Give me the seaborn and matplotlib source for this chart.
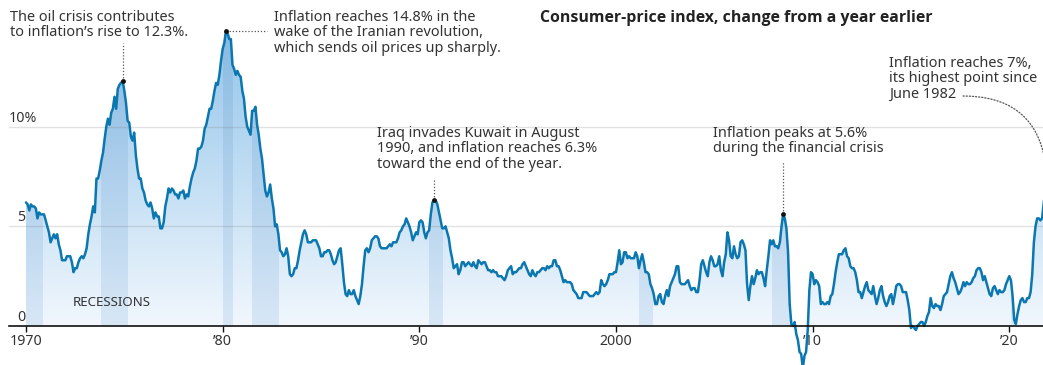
import numpy as np
import pandas as pd
import matplotlib
matplotlib.use("Agg")
import matplotlib.pyplot as plt
import seaborn as sns
from matplotlib.colors import LinearSegmentedColormap

# Consumer-price index, % change from a year earlier, monthly (Jan..Dec)
cpi_1970s = [
    6.2, 6.1, 5.8, 6.1, 6.0, 6.0, 5.9, 5.4, 5.7, 5.6, 5.6, 5.6,
    5.3, 5.0, 4.7, 4.2, 4.4, 4.6, 4.4, 4.6, 4.1, 3.8, 3.3, 3.3,
    3.3, 3.5, 3.5, 3.5, 3.2, 2.7, 2.9, 2.9, 3.2, 3.4, 3.5, 3.4,
    3.6, 3.9, 4.6, 5.1, 5.5, 6.0, 5.7, 7.4, 7.4, 7.8, 8.3, 8.7,
    9.4, 10.0, 10.4, 10.1, 10.7, 10.9, 11.5, 10.9, 11.9, 12.1, 12.2, 12.3,
    11.8, 11.2, 10.3, 10.2, 9.5, 9.3, 9.7, 8.6, 7.9, 7.4, 7.4, 6.9,
    6.7, 6.3, 6.1, 6.0, 6.2, 5.9, 5.4, 5.7, 5.5, 5.5, 4.9, 4.9,
    5.2, 6.0, 6.4, 6.9, 6.7, 6.9, 6.8, 6.6, 6.6, 6.4, 6.7, 6.7,
    6.8, 6.4, 6.6, 6.5, 7.0, 7.4, 7.7, 7.9, 8.3, 8.9, 8.9, 9.0,
    9.3, 9.9, 10.1, 10.5, 10.9, 10.9, 11.3, 11.8, 12.2, 12.1, 12.6, 13.3,
]
cpi_1980s = [
    13.9, 14.2, 14.8, 14.7, 14.4, 14.4, 13.1, 12.9, 12.6, 12.8, 12.6, 12.5,
    11.8, 11.4, 10.5, 10.0, 9.8, 9.6, 10.8, 10.8, 11.0, 10.1, 9.6, 8.9,
    8.4, 7.6, 6.8, 6.5, 6.7, 7.1, 6.4, 5.9, 5.0, 5.1, 4.6, 3.8,
    3.7, 3.5, 3.6, 3.9, 3.5, 2.6, 2.5, 2.6, 2.9, 2.9, 3.3, 3.8,
    4.2, 4.6, 4.8, 4.6, 4.2, 4.2, 4.2, 4.3, 4.3, 4.3, 4.1, 3.9,
    3.5, 3.5, 3.7, 3.7, 3.8, 3.8, 3.6, 3.3, 3.1, 3.2, 3.5, 3.8,
    3.9, 3.1, 2.2, 1.6, 1.5, 1.8, 1.6, 1.6, 1.8, 1.5, 1.3, 1.1,
    1.5, 2.1, 3.0, 3.8, 3.9, 3.7, 3.9, 4.3, 4.4, 4.5, 4.5, 4.4,
    4.0, 3.9, 3.9, 3.9, 3.9, 4.0, 4.1, 4.0, 4.2, 4.2, 4.2, 4.4,
    4.7, 4.8, 5.0, 5.1, 5.4, 5.2, 5.0, 4.7, 4.3, 4.5, 4.7, 4.6,
]
cpi_1990s = [
    5.2, 5.3, 5.2, 4.7, 4.4, 4.7, 4.8, 5.6, 6.2, 6.3, 6.3, 6.1,
    5.7, 5.3, 4.9, 4.9, 5.0, 4.7, 4.4, 3.8, 3.4, 2.9, 3.0, 3.1,
    2.6, 2.8, 3.2, 3.2, 3.0, 3.1, 3.2, 3.1, 3.0, 3.2, 3.0, 2.9,
    3.3, 3.2, 3.1, 3.2, 3.2, 3.0, 2.8, 2.8, 2.7, 2.8, 2.7, 2.7,
    2.5, 2.5, 2.5, 2.4, 2.3, 2.5, 2.8, 2.9, 3.0, 2.6, 2.7, 2.7,
    2.8, 2.9, 2.9, 3.1, 3.2, 3.0, 2.8, 2.6, 2.5, 2.8, 2.6, 2.5,
    2.7, 2.7, 2.8, 2.9, 2.9, 2.8, 3.0, 2.9, 3.0, 3.0, 3.3, 3.3,
    3.0, 3.0, 2.8, 2.5, 2.2, 2.3, 2.2, 2.2, 2.2, 2.1, 1.8, 1.7,
    1.6, 1.4, 1.4, 1.4, 1.7, 1.7, 1.7, 1.6, 1.5, 1.5, 1.5, 1.6,
    1.7, 1.6, 1.7, 2.3, 2.1, 2.0, 2.1, 2.3, 2.6, 2.6, 2.6, 2.7,
]
cpi_2000s = [
    2.7, 3.2, 3.8, 3.1, 3.2, 3.7, 3.7, 3.4, 3.5, 3.4, 3.4, 3.4,
    3.7, 3.5, 2.9, 3.3, 3.6, 3.2, 2.7, 2.7, 2.6, 2.1, 1.9, 1.6,
    1.1, 1.1, 1.5, 1.6, 1.2, 1.1, 1.5, 1.8, 1.5, 2.0, 2.2, 2.4,
    2.6, 3.0, 3.0, 2.2, 2.1, 2.1, 2.1, 2.2, 2.3, 2.0, 1.8, 1.9,
    1.9, 1.7, 1.7, 2.3, 3.1, 3.3, 3.0, 2.7, 2.5, 3.2, 3.5, 3.3,
    3.0, 3.0, 3.1, 3.5, 2.8, 2.5, 3.2, 3.6, 4.7, 4.3, 3.5, 3.4,
    4.0, 3.6, 3.4, 3.5, 4.2, 4.3, 4.1, 3.8, 2.1, 1.3, 2.0, 2.5,
    2.1, 2.4, 2.8, 2.6, 2.7, 2.7, 2.4, 2.0, 2.8, 3.5, 4.3, 4.1,
    4.3, 4.0, 4.0, 3.9, 4.2, 5.0, 5.6, 5.4, 4.9, 3.7, 1.1, 0.1,
    0.0, 0.2, -0.4, -0.7, -1.3, -1.4, -2.1, -1.5, -1.3, -0.2, 1.8, 2.7,
]
cpi_2010s = [
    2.6, 2.1, 2.3, 2.2, 2.0, 1.1, 1.2, 1.1, 1.1, 1.2, 1.1, 1.5,
    1.6, 2.1, 2.7, 3.2, 3.6, 3.6, 3.6, 3.8, 3.9, 3.5, 3.4, 3.0,
    2.9, 2.9, 2.7, 2.3, 1.7, 1.7, 1.4, 1.7, 2.0, 2.2, 1.8, 1.7,
    1.6, 2.0, 1.5, 1.1, 1.4, 1.8, 2.0, 1.5, 1.2, 1.0, 1.2, 1.5,
    1.6, 1.1, 1.5, 2.0, 2.1, 2.1, 2.0, 1.7, 1.7, 1.7, 1.3, 0.8,
    -0.1, 0.0, -0.1, -0.2, 0.0, 0.1, 0.2, 0.2, 0.0, 0.2, 0.5, 0.7,
    1.4, 1.0, 0.9, 1.1, 1.0, 1.0, 0.8, 1.1, 1.5, 1.6, 1.7, 2.1,
    2.5, 2.7, 2.4, 2.2, 1.9, 1.6, 1.7, 1.9, 2.2, 2.0, 2.2, 2.1,
    2.1, 2.2, 2.4, 2.5, 2.8, 2.9, 2.9, 2.7, 2.3, 2.5, 2.2, 1.9,
    1.6, 1.5, 1.9, 2.0, 1.8, 1.6, 1.8, 1.7, 1.7, 1.8, 2.1, 2.3,
]
cpi_2020s = [
    2.5, 2.3, 1.5, 0.3, 0.1, 0.6, 1.0, 1.3, 1.4, 1.2, 1.2, 1.4,
    1.4, 1.7, 2.6, 4.2, 5.0, 5.4, 5.4, 5.3, 5.4, 6.2, 6.8, 7.0,
]

# NBER recessions (start, end) as fractional years
recession_starts = [1969.917, 1973.833, 1980.0, 1981.5, 1990.5, 2001.167, 2007.917, 2020.083]
recession_ends = [1970.833, 1975.167, 1980.5, 1982.833, 1991.167, 2001.833, 2009.417, 2020.25]

x_ticks = [1970, 1980, 1990, 2000, 2010, 2020]
x_tick_labels = ["1970", "\u201980", "\u201990", "2000", "\u201910", "\u201920"]
y_gridlines = [5, 10]
y_labels = ["0", "5", "10%"]

yoy = np.array(cpi_1970s + cpi_1980s + cpi_1990s + cpi_2000s + cpi_2010s + cpi_2020s)
dates = 1970 + np.arange(len(yoy)) / 12.0
df = pd.DataFrame({"year": dates, "cpi": yoy})


def at(year, month):
    i = (year - 1970) * 12 + (month - 1)
    return dates[i], yoy[i]


sns.set_theme(style="white")
plt.rcParams["font.family"] = ["Noto Sans", "DejaVu Sans"]

W, H = 1043, 365
fig = plt.figure(figsize=(W / 100, H / 100), dpi=100)
ax = fig.add_axes([0, 0, 1, 1])

PX_YEAR = 19.666   # pixels per year
PX_UNIT = 19.93    # pixels per percentage point
X0_PX, Y0_PX = 26, 326  # where 1970 / 0% sit
xlim = (1970 - X0_PX / PX_YEAR, 1970 + (W - X0_PX) / PX_YEAR)
ylim = (-(H - Y0_PX) / PX_UNIT, Y0_PX / PX_UNIT)


def px_x(px):
    return 1970 + (px - X0_PX) / PX_YEAR


LINE = "#0b77b0"
TEXT = "#333333"
FS = 10.45

# Vertical gradient fill under the curve
fill_cmap = LinearSegmentedColormap.from_list("fill", ["#f1f7fd", "#92c4ea"])
rec_cmap = LinearSegmentedColormap.from_list("rec", ["#d8e7f6", "#86b9e2"])
grad = np.linspace(0, 1, 256).reshape(-1, 1)
area = ax.fill_between(dates, 0, np.clip(yoy, 0, None), color="none", lw=0)
clip = area.get_paths()[0]

im = ax.imshow(grad, extent=[dates[0], dates[-1], 0, 15], origin="lower",
               aspect="auto", cmap=fill_cmap, zorder=1, interpolation="bilinear")
im.set_clip_path(clip, transform=ax.transData)

for s, e in zip(recession_starts, recession_ends):
    r = ax.imshow(grad, extent=[s, e, 0, 15], origin="lower", aspect="auto",
                  cmap=rec_cmap, zorder=1.5, interpolation="bilinear")
    r.set_clip_path(clip, transform=ax.transData)

# Gridlines
for g in y_gridlines:
    ax.axhline(g, xmin=9 / W, color="#7a7a7a", alpha=0.22, lw=1.0, zorder=2)

# The index line
sns.lineplot(data=df, x="year", y="cpi", color=LINE, linewidth=1.8, ax=ax, zorder=5)

ax.set_xlim(*xlim)
ax.set_ylim(*ylim)

# Axis styling: baseline at 0
for side in ["top", "right", "left"]:
    ax.spines[side].set_visible(False)
ax.spines["bottom"].set_position(("data", 0))
ax.spines["bottom"].set_bounds(px_x(9), xlim[1])
ax.spines["bottom"].set_color("#111111")
ax.spines["bottom"].set_linewidth(1.2)
ax.spines["bottom"].set_zorder(6)
ax.set_xticks(x_ticks)
ax.set_xticklabels(x_tick_labels)
ax.tick_params(axis="x", direction="out", length=4, width=1, color="#111111",
               labelsize=10.2, labelcolor=TEXT, pad=2, bottom=True)
ax.set_yticks([])
ax.set_xlabel("")
ax.set_ylabel("")
ax.grid(False)
ax.set_facecolor("white")

# y labels sitting above the gridlines
for val, lab in zip([0] + y_gridlines, y_labels):
    ax.text(px_x(9 if lab.endswith("%") else 17), val + 0.05, lab,
            ha="left", va="bottom", fontsize=10.2, color=TEXT)

ax.text(px_x(73), 1.2, "RECESSIONS", fontsize=9.6, color=TEXT,
        ha="left", va="center")

# Title
fig.text(540 / W, 1 - 9.5 / H, "Consumer-price index, change from a year earlier",
         fontsize=11.4, fontweight="bold", family=["Open Sans", "DejaVu Sans"],
         color="#222222", ha="left", va="top")

# Annotations
dot_kw = dict(s=12, color="#111111", zorder=7, linewidths=0)
lead_kw = dict(color="#555555", lw=0.9, linestyle=(0, (1, 1.5)), zorder=4)
note_kw = dict(fontsize=FS, color=TEXT, ha="left", va="top", linespacing=1.03)

x74, y74 = at(1974, 12)
ax.plot([x74, x74], [y74, 14.2], **lead_kw)
ax.scatter([x74], [y74], **dot_kw)
fig.text(10 / W, 1 - 10 / H, "The oil crisis contributes\nto inflation\u2019s rise to 12.3%.", **note_kw)

x80, y80 = at(1980, 3)
ax.plot([x80, px_x(267)], [y80, y80], **lead_kw)
ax.scatter([x80], [y80], **dot_kw)
fig.text(274 / W, 1 - 10 / H,
         "Inflation reaches 14.8% in the\nwake of the Iranian revolution,\nwhich sends oil prices up sharply.",
         **note_kw)

x90, y90 = at(1990, 10)
ax.plot([x90, x90], [y90, 7.4], **lead_kw)
ax.scatter([x90], [y90], **dot_kw)
fig.text(377 / W, 1 - 126 / H,
         "Iraq invades Kuwait in August\n1990, and inflation reaches 6.3%\ntoward the end of the year.",
         **note_kw)

x08, y08 = at(2008, 7)
ax.plot([x08, x08], [y08, 8.25], **lead_kw)
ax.scatter([x08], [y08], **dot_kw)
fig.text(713 / W, 1 - 126 / H,
         "Inflation peaks at 5.6%\nduring the financial crisis", **note_kw)

fig.text(889 / W, 1 - 56 / H,
         "Inflation reaches 7%,\nits highest point since\nJune 1982", **note_kw)
ax.annotate("", xy=(dates[-1], yoy[-1]), xycoords="data",
            xytext=(963, H - 96), textcoords="figure pixels",
            annotation_clip=False,
            arrowprops=dict(arrowstyle="-", color="#555555", lw=0.9,
                            linestyle=(0, (1, 1.5)), shrinkA=0, shrinkB=24,
                            connectionstyle="angle3,angleA=0,angleB=90"))

fig.savefig("out.png", dpi=100)
